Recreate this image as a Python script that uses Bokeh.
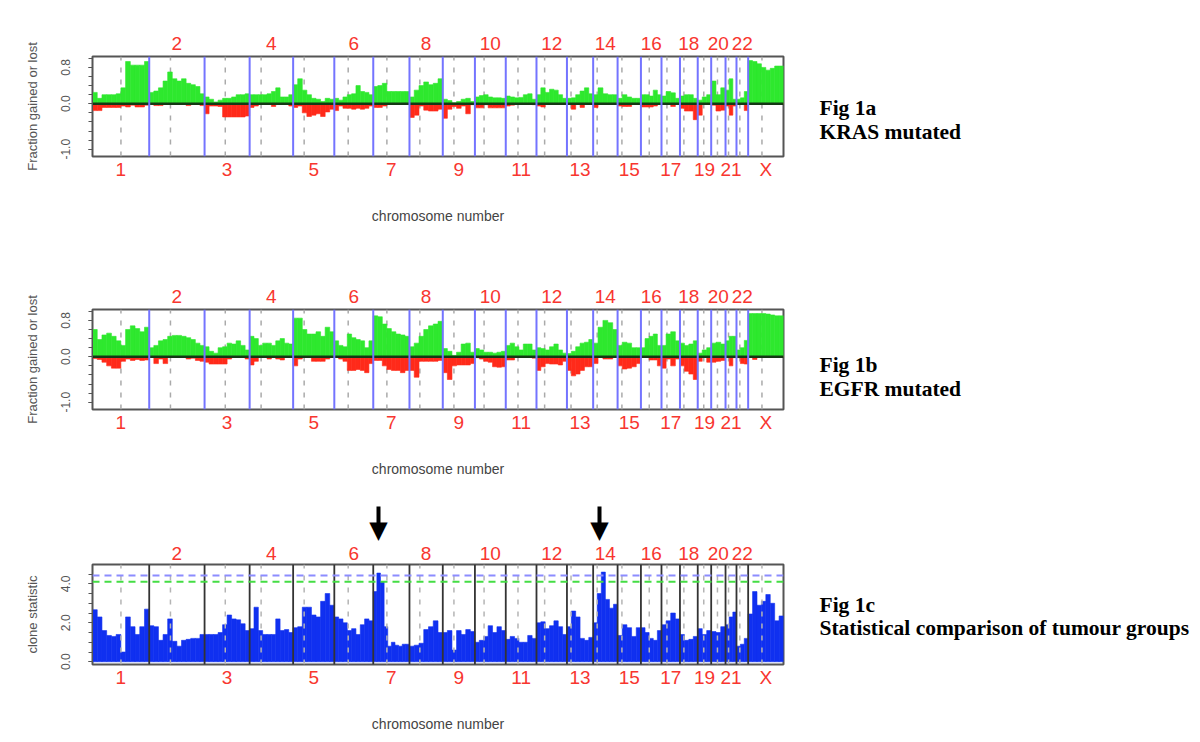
import math
from bokeh.plotting import figure
from bokeh.layouts import column
from bokeh.models import (Range1d, LinearAxis, FixedTicker, NumeralTickFormatter, Span)
from bokeh.embed import file_html
from bokeh.resources import INLINE

# ---------------- data ----------------
chrom_names = ["1", "2", "3", "4", "5", "6", "7", "8", "9", "10", "11", "12",
               "13", "14", "15", "16", "17", "18", "19", "20", "21", "22", "X"]
chrom_len_mb = [249.25, 243.20, 198.02, 191.15, 180.92, 171.12, 159.14, 146.36,
                141.21, 135.53, 135.01, 133.85, 115.17, 107.35, 102.53, 90.35,
                81.20, 78.08, 59.13, 63.03, 48.13, 51.30, 155.27]
centromere_mb = [125.0, 93.3, 91.0, 50.4, 48.4, 61.0, 59.9, 45.6, 49.0, 40.2, 53.7,
                 35.8, 17.9, 17.6, 19.0, 36.6, 24.0, 17.2, 26.5, 27.5, 13.2, 14.7, 60.6]

kras_gain = [
    [0.25, 0.12, 0.2, 0.2, 0.2, 0.22, 0.35, 0.93, 0.85, 0.85, 0.85, 0.93],
    [0.25, 0.28, 0.35, 0.5, 0.7, 0.55, 0.5, 0.55, 0.45, 0.42, 0.38, 0.22],
    [0.15, 0.1, 0.04, 0.08, 0.12, 0.12, 0.15, 0.2, 0.2, 0.22],
    [0.2, 0.2, 0.2, 0.2, 0.22, 0.27, 0.35, 0.15, 0.15, 0.2],
    [0.42, 0.55, 0.3, 0.2, 0.12, 0.1, 0.05, 0.12, 0.1],
    [0.12, 0.08, 0.15, 0.2, 0.22, 0.4, 0.27, 0.25, 0.2],
    [0.38, 0.4, 0.45, 0.27, 0.27, 0.27, 0.27, 0.27],
    [0.15, 0.3, 0.4, 0.48, 0.42, 0.45, 0.55],
    [0.1, 0.07, 0.02, 0.05, 0.1, 0.12, 0.05],
    [0.15, 0.18, 0.2, 0.15, 0.13, 0.13, 0.12],
    [0.17, 0.15, 0.13, 0.14, 0.2, 0.22, 0.1],
    [0.2, 0.35, 0.25, 0.32, 0.3, 0.2, 0.12],
    [0.12, 0.13, 0.2, 0.28, 0.35, 0.22],
    [0.2, 0.35, 0.22, 0.2, 0.2],
    [0.12, 0.2, 0.15, 0.12, 0.12],
    [0.2, 0.2, 0.17, 0.3, 0.2],
    [0.17, 0.27, 0.24, 0.12],
    [0.17, 0.2, 0.2, 0.12],
    [0.08, 0.15, 0.2],
    [0.5, 0.2, 0.35],
    [0.3, 0.55, 0.1],
    [0.1, 0.13, 0.27],
    [0.95, 0.93, 0.88, 0.8, 0.74, 0.78, 0.83, 0.83],
]
kras_loss = [
    [-0.15, -0.15, -0.08, -0.08, -0.08, -0.08, -0.05, -0.07, -0.03, -0.07, -0.07, -0.03],
    [0, -0.04, -0.04, 0, 0, 0, 0, 0, -0.04, 0, 0, -0.04],
    [-0.22, -0.05, -0.05, -0.06, -0.29, -0.29, -0.29, -0.29, -0.29, -0.27],
    [-0.08, -0.05, 0, 0, 0, -0.06, 0, 0, 0, -0.05],
    [-0.08, -0.05, -0.2, -0.28, -0.25, -0.22, -0.28, -0.18, -0.12],
    [-0.15, -0.05, -0.1, -0.1, -0.12, -0.1, -0.12, -0.1, -0.05],
    [-0.08, -0.08, -0.05, 0, 0, 0, 0, 0],
    [-0.3, -0.25, -0.05, -0.14, -0.16, -0.16, -0.12],
    [-0.32, -0.12, -0.06, -0.1, -0.05, -0.22, -0.02],
    [-0.09, -0.09, -0.02, -0.09, -0.09, -0.09, -0.09],
    [-0.05, -0.03, 0, 0, 0, 0, -0.02],
    [-0.05, -0.07, 0, 0, 0, 0, 0],
    [0, -0.12, 0, -0.08, 0, 0],
    [-0.08, 0, 0, 0, 0],
    [-0.05, -0.06, -0.06, 0, 0],
    [-0.07, -0.07, -0.07, -0.05, 0],
    [0, 0, -0.06, 0],
    [-0.1, -0.16, -0.16, -0.35],
    [-0.25, 0, 0],
    [-0.03, -0.16, -0.14],
    [-0.05, -0.25, -0.05],
    [0, 0, -0.15],
    [0, 0, 0, 0, 0, 0, 0, 0],
]
egfr_gain = [
    [0.6, 0.38, 0.48, 0.52, 0.45, 0.35, 0.25, 0.6, 0.68, 0.62, 0.55, 0.65],
    [0.2, 0.25, 0.35, 0.38, 0.45, 0.47, 0.47, 0.45, 0.42, 0.38, 0.3, 0.25],
    [0.22, 0.12, 0.08, 0.2, 0.22, 0.3, 0.28, 0.35, 0.25, 0.15],
    [0.45, 0.4, 0.25, 0.3, 0.3, 0.25, 0.35, 0.4, 0.3, 0.28],
    [0.85, 0.85, 0.6, 0.5, 0.5, 0.55, 0.45, 0.65, 0.55],
    [0.35, 0.25, 0.22, 0.5, 0.42, 0.38, 0.35, 0.2, 0.35],
    [0.9, 0.88, 0.72, 0.62, 0.55, 0.5, 0.48, 0.45],
    [0.22, 0.3, 0.45, 0.6, 0.68, 0.72, 0.78],
    [0.18, 0.12, 0.03, 0.1, 0.28, 0.3, 0.1],
    [0.18, 0.15, 0.1, 0.1, 0.08, 0.1, 0.12],
    [0.25, 0.3, 0.22, 0.15, 0.28, 0.28, 0.15],
    [0.2, 0.18, 0.15, 0.22, 0.28, 0.15, 0.08],
    [0.07, 0.12, 0.22, 0.3, 0.32, 0.38],
    [0.3, 0.65, 0.8, 0.75, 0.6],
    [0.25, 0.32, 0.3, 0.2, 0.2],
    [0.2, 0.4, 0.45, 0.5, 0.25],
    [0.25, 0.5, 0.55, 0.35],
    [0.3, 0.25, 0.28, 0.35],
    [0.08, 0.15, 0.2],
    [0.3, 0.32, 0.28],
    [0.35, 0.45, 0.45],
    [0.15, 0.2, 0.36],
    [0.95, 0.95, 0.95, 0.95, 0.94, 0.92, 0.9, 0.9],
]
egfr_loss = [
    [-0.04, -0.06, -0.12, -0.2, -0.25, -0.25, -0.1, -0.05, -0.08, -0.06, -0.08, -0.07],
    [0, -0.15, -0.05, -0.15, 0, 0, 0, 0, -0.05, -0.03, -0.08, -0.1],
    [-0.12, -0.16, -0.16, -0.16, -0.16, -0.05, 0, 0, 0, -0.05],
    [-0.18, -0.1, 0, 0, -0.05, 0, -0.05, -0.07, 0, 0],
    [-0.2, -0.05, 0, 0, -0.1, -0.1, -0.1, -0.05, 0],
    [0, -0.05, -0.1, -0.3, -0.3, -0.28, -0.3, -0.35, -0.15],
    [-0.08, -0.08, -0.2, -0.28, -0.3, -0.3, -0.35, -0.3],
    [-0.3, -0.45, -0.1, -0.1, -0.1, -0.1, -0.08],
    [-0.35, -0.5, -0.2, -0.18, -0.18, -0.18, -0.15],
    [-0.02, -0.05, -0.1, -0.12, -0.22, -0.23, -0.22],
    [-0.07, -0.07, 0, 0, 0, 0, -0.03],
    [-0.3, -0.22, -0.15, -0.16, -0.16, -0.18, -0.1],
    [-0.3, -0.42, -0.38, -0.3, -0.22, -0.22],
    [-0.15, 0, -0.05, -0.05, 0],
    [-0.2, -0.27, -0.25, -0.22, -0.15],
    [0, 0, -0.07, -0.07, -0.2],
    [-0.25, -0.05, -0.2, -0.05],
    [-0.2, -0.32, -0.38, -0.5],
    [-0.1, 0, -0.12],
    [-0.12, -0.1, -0.08],
    [0, -0.2, -0.02],
    [-0.02, -0.15, -0.16],
    [0, -0.06, 0, 0, 0, 0, 0, 0],
]
clone_stat = [
    [2.67, 2.3, 1.6, 1.35, 1.3, 1.4, 0.5, 2.3, 1.8, 1.4, 1.8, 2.7],
    [1.85, 1.8, 1.1, 1.4, 2.2, 1.05, 0.8, 1.1, 1.15, 1.2, 1.2, 1.4],
    [1.4, 1.4, 1.4, 1.5, 1.9, 2.4, 2.2, 2.15, 1.95, 1.6],
    [1.7, 2.8, 1.6, 1.4, 1.4, 1.4, 2.2, 1.6, 1.65, 1.5],
    [1.75, 1.8, 2.8, 2.8, 2.4, 2.3, 3.1, 3.5, 2.9],
    [2.3, 2.2, 2.0, 1.6, 1.7, 1.4, 1.9, 2.2, 2.1],
    [3.6, 4.55, 4.1, 1.8, 0.8, 1.0, 0.85, 0.8, 0.9, 0.9],
    [0.8, 0.85, 0.95, 1.65, 1.8, 2.1, 1.5],
    [1.5, 1.6, 0.6, 1.6, 1.4, 1.65, 1.55],
    [1.0, 1.1, 1.3, 1.85, 1.5, 1.8, 1.6],
    [1.15, 1.3, 1.2, 1.0, 1.0, 1.35, 1.2],
    [2.0, 2.05, 1.7, 1.85, 2.1, 1.8, 1.4],
    [1.8, 2.6, 2.3, 1.2, 1.1, 1.25],
    [2.0, 3.5, 4.6, 3.2, 2.75, 2.95],
    [1.35, 1.9, 1.75, 1.3, 1.75],
    [1.75, 1.5, 1.2, 1.1, 1.6],
    [1.9, 2.1, 2.5, 2.2],
    [1.4, 1.1, 1.15, 1.3],
    [1.7, 1.4, 1.6],
    [1.55, 1.5, 1.8],
    [1.9, 2.3, 2.55],
    [0.8, 0.9, 1.2],
    [2.45, 3.6, 2.9, 3.1, 3.45, 3.0, 2.1, 2.35],
]
threshold_levels = [4.42, 4.1]
arrow_chroms = ["7", "14"]
arrow_offset_mb = [23.0, 28.0]
panel_texts = [("Fig 1a", "KRAS mutated"),
               ("Fig 1b", "EGFR mutated"),
               ("Fig 1c", "Statistical comparison of tumour groups")]

# ---------------- style / layout ----------------
GREEN = "#2ee82e"
RED_BAR = "#ff2a1a"
BLUE_BAR = "#1030f0"
LABEL_RED = "#f8362f"
GREY = "#555555"
SANS = "Liberation Sans"
SERIF = "Liberation Serif"
PAGE_W = 1195
FRAME_L = 92
FRAME_W = 691
FRAME_H = 100
CN_YLIM = (-1.16, 1.04)
CS_YLIM = (-0.14, 4.99)

starts = []
acc = 0.0
for L in chrom_len_mb:
    starts.append(acc)
    acc += L
TOTAL = acc
centers = [round(s + L / 2.0, 3) for s, L in zip(starts, chrom_len_mb)]
ends = [s + L for s, L in zip(starts, chrom_len_mb)]
cen_x = [s + c for s, c in zip(starts, centromere_mb)]


def binned(series):
    left, right, val = [], [], []
    for s, L, vals in zip(starts, chrom_len_mb, series):
        n = len(vals)
        for k, v in enumerate(vals):
            left.append(s + L * k / n)
            right.append(s + L * (k + 1) / n)
            val.append(v)
    return left, right, val


def px_to_y(page_y, frame_top_page, ylo, yhi):
    return round(yhi - (page_y - frame_top_page) * (yhi - ylo) / FRAME_H, 4)


def base_figure(height, top, ylo, yhi, top_standoff=7):
    p = figure(width=PAGE_W, height=height, x_range=Range1d(0, TOTAL),
               y_range=Range1d(ylo, yhi), x_axis_type=None, y_axis_type=None,
               output_backend="svg", toolbar_location=None,
               min_border_left=FRAME_L, min_border_right=PAGE_W - FRAME_L - FRAME_W,
               min_border_top=top, min_border_bottom=height - top - FRAME_H)
    p.outline_line_color = GREY
    p.outline_line_width = 2
    p.background_fill_color = "white"
    p.border_fill_color = "white"
    even_idx = [i for i in range(len(chrom_names)) if i % 2 == 1]
    odd_idx = [i for i in range(len(chrom_names)) if i % 2 == 0]
    for loc, idx in (("above", even_idx), ("below", odd_idx)):
        ax = LinearAxis(ticker=FixedTicker(ticks=[centers[i] for i in idx], minor_ticks=[]),
                        major_label_overrides={centers[i]: chrom_names[i] for i in idx},
                        axis_line_color=None, major_tick_line_color=None,
                        minor_tick_line_color=None, major_tick_out=0, major_tick_in=0,
                        major_label_text_color=LABEL_RED,
                        major_label_text_font=SANS,
                        major_label_text_font_size="19px",
                        major_label_standoff=top_standoff if loc == "above" else 2)
        if loc == "below":
            ax.axis_label = "chromosome number"
            ax.axis_label_text_font = SANS
            ax.axis_label_text_font_size = "14px"
            ax.axis_label_text_font_style = "normal"
            ax.axis_label_text_color = "#444444"
            ax.axis_label_standoff = 25
        p.add_layout(ax, loc)
    return p


def left_axis(p, label, major, minor):
    ax = LinearAxis(ticker=FixedTicker(ticks=major, minor_ticks=minor),
                    formatter=NumeralTickFormatter(format="0.0"),
                    axis_line_color=GREY, major_tick_line_color=GREY,
                    minor_tick_line_color=GREY, major_tick_out=4, major_tick_in=0,
                    minor_tick_out=4, minor_tick_in=0,
                    major_label_orientation="parallel",
                    major_label_text_font=SANS, major_label_text_font_size="12px",
                    major_label_text_color=GREY, major_label_standoff=18,
                    axis_label=label, axis_label_text_font=SANS,
                    axis_label_text_font_size="13px", axis_label_text_font_style="normal",
                    axis_label_text_color=GREY, axis_label_standoff=19)
    p.add_layout(ax, "left")


def caption_axis(p, lines, ys):
    # captions to the right of the panel, carried by a right-hand axis
    ax = LinearAxis(ticker=FixedTicker(ticks=ys, minor_ticks=[]),
                    major_label_overrides={y: t for y, t in zip(ys, lines)},
                    axis_line_color=None, major_tick_line_color=None,
                    major_tick_out=0, major_tick_in=0, minor_tick_line_color=None,
                    major_label_orientation="horizontal",
                    major_label_text_font=SERIF, major_label_text_font_style="bold",
                    major_label_text_font_size="21.5px", major_label_text_color="black",
                    major_label_standoff=36)
    p.add_layout(ax, "right")


def cn_panel(gain, loss, height, top, frame_top_page, caption, centers_page):
    ylo, yhi = CN_YLIM
    p = base_figure(height, top, ylo, yhi)
    left_axis(p, "Fraction gained or lost", [-1.0, 0.0, 0.8],
              [round(-1.0 + 0.2 * k, 1) for k in range(11)])
    p.segment(x0=cen_x, y0=ylo, x1=cen_x, y1=yhi,
              line_color="#aaaaaa", line_width=1.5, line_dash="5 7")
    l, r, v = binned(gain)
    p.quad(left=l, right=r, bottom=0, top=v, fill_color=GREEN, line_color=GREEN, line_width=0.6)
    l, r, v = binned(loss)
    p.quad(left=l, right=r, bottom=v, top=0, fill_color=RED_BAR, line_color=RED_BAR, line_width=0.6)
    p.segment(x0=[0], y0=[0], x1=[TOTAL], y1=[0], line_color="#143814", line_width=2.5)
    p.segment(x0=ends[:-1], y0=ylo, x1=ends[:-1], y1=yhi, line_color="#7474ff", line_width=2)
    caption_axis(p, caption, [px_to_y(c, frame_top_page, ylo, yhi) for c in centers_page])
    return p


pa = cn_panel(kras_gain, kras_loss, 262, 56, 56, panel_texts[0], [107, 131])
pb = cn_panel(egfr_gain, egfr_loss, 238, 47, 309, panel_texts[1], [364, 388])

# panel c
ylo_c, yhi_c = CS_YLIM
pc = base_figure(236, 64, ylo_c, yhi_c, top_standoff=5)
left_axis(pc, "clone statistic", [0.0, 2.0, 4.0], [0.5 * k for k in range(10)])
l, r, v = binned(clone_stat)
pc.quad(left=l, right=r, bottom=0, top=v, fill_color=BLUE_BAR, line_color=BLUE_BAR, line_width=0.6)
pc.segment(x0=cen_x, y0=ylo_c, x1=cen_x, y1=yhi_c,
           line_color="#b4b4b4", line_width=1.5, line_dash="5 7")
pc.segment(x0=ends[:-1], y0=ylo_c, x1=ends[:-1], y1=yhi_c, line_color="#333333", line_width=1.8)
pc.add_layout(Span(location=threshold_levels[0], dimension="width", line_color="#8c8cff",
                   line_width=2, line_dash="7 5"))
pc.add_layout(Span(location=threshold_levels[1], dimension="width", line_color="#44dd44",
                   line_width=2, line_dash="7 5"))
caption_axis(pc, panel_texts[2], [px_to_y(c, 564, ylo_c, yhi_c) for c in [604, 627]])

# arrows marking the peaks: head (label) and shaft (tick) on extra top axes
arrow_x = [round(starts[chrom_names.index(ch)] + off, 3)
           for ch, off in zip(arrow_chroms, arrow_offset_mb)]
head_ax = LinearAxis(ticker=FixedTicker(ticks=arrow_x, minor_ticks=[]),
                     major_label_overrides={x: "\u25bc" for x in arrow_x},
                     axis_line_color=None, major_tick_line_color=None,
                     minor_tick_line_color=None, major_tick_out=0, major_tick_in=0,
                     major_label_standoff=0, major_label_text_font="DejaVu Sans",
                     major_label_text_font_size="24px", major_label_text_color="black")
shaft_ax = LinearAxis(ticker=FixedTicker(ticks=arrow_x, minor_ticks=[]),
                      major_label_overrides={x: "" for x in arrow_x},
                      axis_line_color=None, major_tick_line_color="black",
                      major_tick_line_width=4, minor_tick_line_color=None,
                      major_tick_out=6, major_tick_in=14, major_label_standoff=0,
                      major_label_text_font_size="1px")
pc.add_layout(head_ax, "above")
pc.add_layout(shaft_ax, "above")

layout = column(pa, pb, pc, spacing=0)
open("out.html", "w").write(file_html(layout, INLINE))
